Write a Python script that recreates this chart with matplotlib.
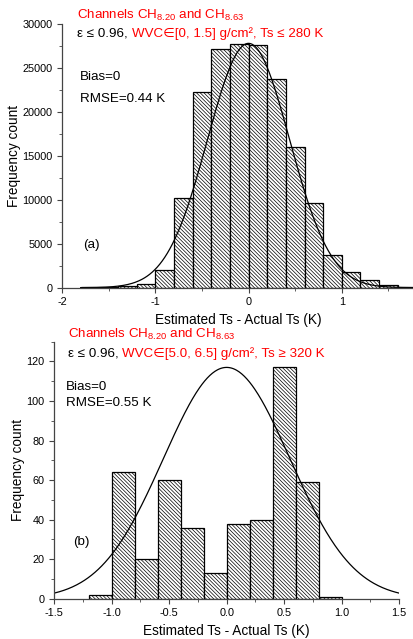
import numpy as np
import matplotlib.pyplot as plt
from matplotlib.ticker import MultipleLocator

plt.rcParams['font.family'] = ['Liberation Sans', 'DejaVu Sans']
plt.rcParams['mathtext.fontset'] = 'custom'
plt.rcParams['mathtext.rm'] = 'Liberation Sans'
plt.rcParams['mathtext.it'] = 'Liberation Sans:italic'
plt.rcParams['axes.unicode_minus'] = False
plt.rcParams['hatch.linewidth'] = 0.5

# (a) cold/dry case: bin left edges and counts, bin width 0.2 K
edges_a = [-1.8, -1.6, -1.4, -1.2, -1.0, -0.8, -0.6, -0.4, -0.2, 0.0,
           0.2, 0.4, 0.6, 0.8, 1.0, 1.2, 1.4, 1.6]
counts_a = [40, 60, 180, 450, 2050, 10150, 22250, 27100, 27750, 27600,
            23700, 15980, 9620, 3730, 1750, 900, 300, 110]
bias_a, rmse_a, peak_a = 0.0, 0.44, 27800

# (b) hot/humid case
edges_b = [-1.2, -1.0, -0.8, -0.6, -0.4, -0.2, 0.0, 0.2, 0.4, 0.6, 0.8]
counts_b = [2, 64, 20, 60, 36, 13, 38, 40, 117, 59, 1]
bias_b, rmse_b, peak_b = 0.0, 0.55, 117

bin_w = 0.2
red = '#ff0000'

fig = plt.figure(figsize=(4.14, 6.39), dpi=100)
ax1 = fig.add_axes([62 / 414, 351.3 / 639, 352 / 414, 263.7 / 639])
ax2 = fig.add_axes([54.3 / 414, 40.3 / 639, 344.7 / 414, 257 / 639])


def draw_hist(ax, edges, counts, bias, rmse, peak, xr):
    ax.bar(edges, counts, width=bin_w, align='edge', color='white',
           edgecolor='black', hatch='\\' * 9, linewidth=0.9)
    x = np.linspace(xr[0], xr[1], 400)
    ax.plot(x, peak * np.exp(-0.5 * ((x - bias) / rmse) ** 2),
            color='black', lw=0.9)
    for s in ['top', 'right']:
        ax.spines[s].set_visible(False)
    for s in ['left', 'bottom']:
        ax.spines[s].set_linewidth(0.9)
        ax.spines[s].set_color('#444444')
    ax.tick_params(which='both', direction='out', labelsize=7.8, color='#444444')
    ax.tick_params(which='major', length=3.5)
    ax.tick_params(which='minor', length=2)
    ax.set_xlabel('Estimated Ts - Actual Ts (K)', fontsize=9.8, labelpad=4)
    ax.set_ylabel('Frequency count', fontsize=9.8, labelpad=1)


def header(ax, x, y1, y2, wvc):
    ax.text(x, y1, 'Channels CH$_{8.20}$ and CH$_{8.63}$', transform=fig.transFigure,
            color=red, fontsize=9.6, va='baseline')
    t = ax.text(x, y2, '\u03b5 \u2264 0.96, ', transform=fig.transFigure,
                color='black', fontsize=9.6, va='baseline')
    ax.annotate(wvc, xy=(1, 0), xycoords=t, va='bottom', color=red, fontsize=9.6)


draw_hist(ax1, edges_a, counts_a, bias_a, rmse_a, peak_a, (-1.8, 1.8))
ax1.set_xlim(-2, 1.774)
ax1.set_ylim(0, 30000)
ax1.xaxis.set_major_locator(MultipleLocator(1))
ax1.xaxis.set_minor_locator(MultipleLocator(0.5))
ax1.yaxis.set_major_locator(MultipleLocator(5000))
ax1.yaxis.set_minor_locator(MultipleLocator(2500))
header(ax1, 77 / 414, 1 - 19 / 639, 1 - 37 / 639,
       'WVC\u2208[0, 1.5] g/cm\u00b2, Ts \u2264 280 K')
ax1.text(80 / 414, 1 - 80 / 639, 'Bias=0', transform=fig.transFigure, fontsize=9.6)
ax1.text(80 / 414, 1 - 102 / 639, 'RMSE=0.44 K', transform=fig.transFigure, fontsize=9.6)
ax1.text(83 / 414, 1 - 248 / 639, '(a)', transform=fig.transFigure, fontsize=9.6)

draw_hist(ax2, edges_b, counts_b, bias_b, rmse_b, peak_b, (-1.5, 1.5))
ax2.set_xlim(-1.5, 1.5)
ax2.set_ylim(0, 130)
ax2.xaxis.set_major_locator(MultipleLocator(0.5))
ax2.xaxis.set_minor_locator(MultipleLocator(0.25))
ax2.yaxis.set_minor_locator(MultipleLocator(10))
ax2.set_yticks([0, 20, 40, 60, 80, 100, 120])
ax2.xaxis.set_major_formatter(plt.FuncFormatter(lambda v, p: f'{v:.1f}'))
header(ax2, 68 / 414, 1 - 338 / 639, 1 - 357 / 639,
       'WVC\u2208[5.0, 6.5] g/cm\u00b2, Ts \u2265 320 K')
ax2.text(66 / 414, 1 - 390 / 639, 'Bias=0', transform=fig.transFigure, fontsize=9.6)
ax2.text(66 / 414, 1 - 406 / 639, 'RMSE=0.55 K', transform=fig.transFigure, fontsize=9.6)
ax2.text(73 / 414, 1 - 545 / 639, '(b)', transform=fig.transFigure, fontsize=9.6)

fig.savefig('out.png', dpi=100)
